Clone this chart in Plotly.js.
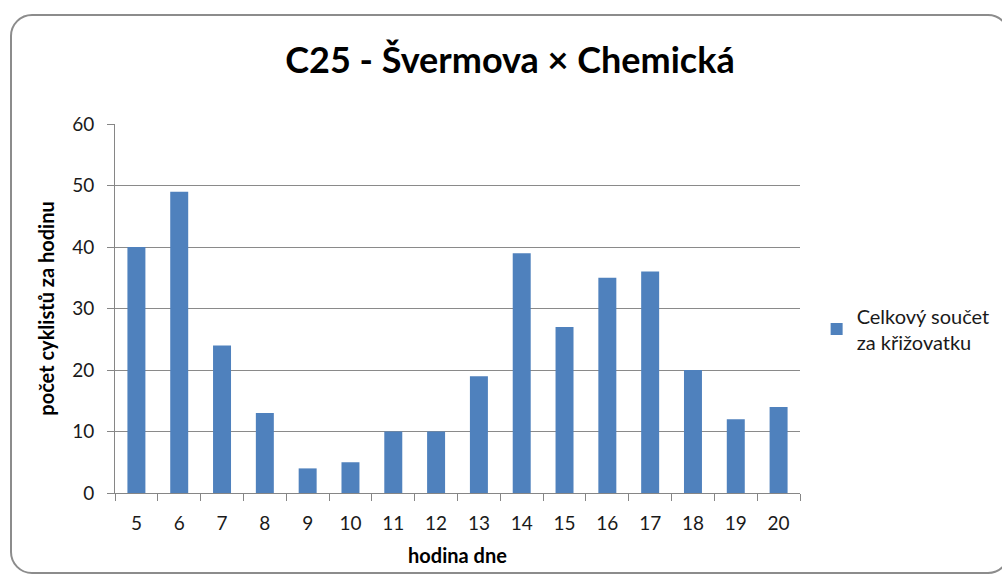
<!DOCTYPE html>
<html>
<head>
<meta charset="utf-8">
<script src="https://cdn.plot.ly/plotly-3.0.1.min.js"></script>
<style>
html,body{margin:0;padding:0;background:#fff;}
#wrap{position:relative;width:1002px;height:575px;overflow:hidden;}
#frame{position:absolute;left:10px;top:14px;width:1000px;height:560px;border:2px solid #8c8c8c;border-radius:22px;box-sizing:border-box;pointer-events:none;}
#chart{position:absolute;left:0;top:0;width:1002px;height:575px;}
</style>
</head>
<body>
<div id="wrap">
<div id="chart"></div>
<div id="frame"></div>
</div>
<script>
const hours = ['5','6','7','8','9','10','11','12','13','14','15','16','17','18','19','20'];
const cyclists = [40,49,24,13,4,5,10,10,19,39,27,35,36,20,12,14];
const seriesName = 'Celkový součet<br>za křižovatku';
const yTicks = [0,10,20,30,40,50,60];

const fontFam = 'Lato, "Open Sans", sans-serif';
const trace = {
  type: 'bar',
  x: hours,
  y: cyclists,
  name: seriesName,
  marker: {color: '#4F81BD'},
  showlegend: true
};
const layout = {
  width: 1002, height: 575,
  margin: {l: 115, r: 202, t: 124, b: 82, autoexpand: false},
  paper_bgcolor: 'rgba(0,0,0,0)',
  plot_bgcolor: 'rgba(0,0,0,0)',
  bargap: 0.58,
  font: {family: fontFam, color: '#1a1a1a', size: 19},
  title: {text: '<b>C25 - Švermova × Chemická</b>', x: 0.509, xref: 'container', y: 0.895, yref: 'container', yanchor: 'middle', xanchor: 'center', font: {family: fontFam, size: 36, color: '#000'}},
  xaxis: {
    type: 'category',
    showline: true, linecolor: '#868686', linewidth: 1,
    ticks: 'outside', ticklen: 7, tickcolor: '#868686', tickson: 'boundaries',
    showgrid: false,
    ticklabelstandoff: 13,
    tickfont: {size: 19},
    title: {text: '<b>hodina dne</b>', font: {size: 20, color: '#000'}, standoff: 16}
  },
  yaxis: {
    range: [0, 60],
    tickvals: yTicks,
    showline: true, linecolor: '#868686', linewidth: 1,
    ticks: 'outside', ticklen: 7, tickcolor: '#868686',
    showgrid: true, gridcolor: '#8a8a8a', gridwidth: 1,
    zeroline: false,
    ticklabelstandoff: 9,
    tickfont: {size: 19},
    title: {text: '<b>počet cyklistů za hodinu</b>', font: {size: 20, color: '#000'}, standoff: 12}
  },
  legend: {xref: 'container', x: 0.815, xanchor: 'left', yref: 'container', y: 0.428, yanchor: 'middle', font: {size: 20}, bgcolor: 'rgba(0,0,0,0)', itemwidth: 30, tracegroupgap: 0}
};
Plotly.newPlot('chart', [trace], layout, {displayModeBar: false, staticPlot: true});
</script>
</body>
</html>
